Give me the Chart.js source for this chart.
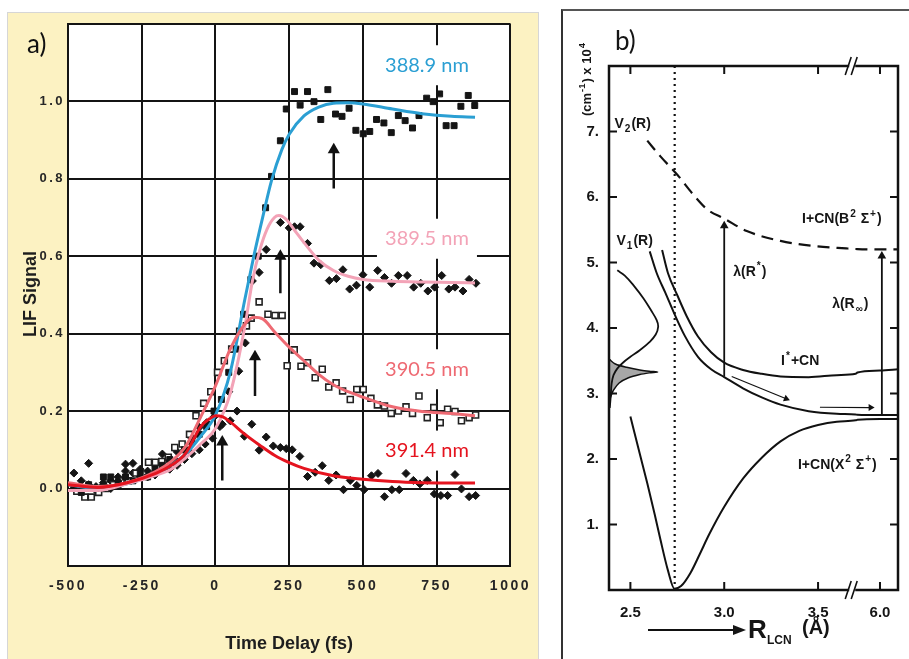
<!DOCTYPE html>
<html>
<head>
<meta charset="utf-8">
<script src="https://cdn.jsdelivr.net/npm/chart.js@4.4.1/dist/chart.umd.min.js"></script>
<style>
  html, body { margin: 0; padding: 0; background: #fff; }
  body { width: 909px; height: 659px; position: relative; overflow: hidden; }
  #wrapA { position: absolute; left: 7px; top: 12px; width: 530px; height: 646px;
           border: 1px solid #d6d6d6; border-bottom: none; background: #fcf2c2; }
  #wrapB { position: absolute; left: 561px; top: 9px; width: 346px; height: 648px;
           border-left: 2px solid #333; border-top: 2px solid #555; background: #fff; }
  canvas { display: block; }
</style>
</head>
<body>
<div id="wrapA"><canvas id="chartA" width="530" height="646"></canvas></div>
<div id="wrapB"><canvas id="chartB" width="346" height="648"></canvas></div>
<script>
// ---------- panel a) : LIF signal vs time delay ----------
// measured points, one list per probe wavelength
var sq3889T = [-480,-455,-430,-405,-380,-355,-330,-305,-280,-255,-230,-205,-180,-155,-130,-105,-80,-55,-30,-5,20,45,70,95,120,145,170,190,220,240,268,287,312,334,357,381,407,429,453,476,501,523,546,571,596,620,643,668,690,716,738,760,782,809,832,857,879];
var sq3889V = [0.0,-0.01,0.01,0.0,0.03,0.03,0.01,0.03,0.02,0.04,0.03,0.05,0.06,0.075,0.07,0.1,0.12,0.14,0.16,0.2,0.23,0.3,0.36,0.45,0.54,0.6,0.725,0.806,0.898,0.98,1.025,0.99,1.025,0.999,0.953,1.03,0.967,0.961,0.982,0.925,0.916,0.922,0.953,0.944,0.919,0.963,0.95,0.931,0.963,1.008,0.999,1.019,0.937,0.937,0.987,1.015,0.989];

var dm3895T = [-480,-455,-430,-405,-380,-355,-330,-305,-280,-255,-230,-205,-180,-155,-130,-105,-80,-55,-35,-10,15,45,79,101,125,148,172,220,250,268,287,312,334,357,386,410,432,455,478,500,523,550,573,597,620,650,672,696,720,743,767,791,812,839,860,883];
var dm3895V = [0.04,-0.005,0.065,0.005,0.01,0.0,0.02,0.063,0.065,0.03,0.03,0.035,0.05,0.05,0.06,0.075,0.09,0.1,0.115,0.13,0.16,0.25,0.303,0.376,0.536,0.558,0.617,0.687,0.673,0.676,0.676,0.633,0.582,0.578,0.537,0.542,0.565,0.515,0.525,0.552,0.52,0.563,0.545,0.53,0.55,0.55,0.52,0.53,0.51,0.52,0.55,0.515,0.52,0.51,0.54,0.53];

var os3905T = [-470,-443,-421,-396,-371,-346,-320,-296,-270,-227,-204,-182,-160,-138,-113,-88,-66,-40,-16,7,30,55,82,105,121,148,178,202,226,243,267,290,312,338,362,384,409,431,457,479,501,527,549,573,596,620,646,668,690,718,740,762,787,812,834,860,882];
var os3905V = [-0.007,-0.022,-0.022,-0.01,0.0,0.01,0.02,0.02,0.04,0.068,0.068,0.07,0.081,0.106,0.115,0.14,0.188,0.22,0.25,0.3,0.33,0.36,0.406,0.42,0.44,0.482,0.45,0.447,0.447,0.317,0.358,0.316,0.325,0.286,0.308,0.262,0.273,0.252,0.23,0.256,0.256,0.233,0.216,0.213,0.194,0.2,0.211,0.194,0.239,0.183,0.209,0.17,0.205,0.199,0.175,0.183,0.19];

var dm3914T = [-480,-455,-430,-405,-380,-355,-330,-305,-280,-255,-230,-205,-180,-155,-130,-105,-80,-55,-30,-5,23,50,73,98,123,148,172,196,220,240,260,286,312,338,362,384,409,434,457,479,504,529,551,573,598,623,646,671,693,718,742,764,787,812,834,860,882];
var dm3914V = [0.0,0.02,0.01,-0.005,0.015,0.02,0.03,0.045,0.04,0.05,0.045,0.06,0.089,0.07,0.095,0.1,0.13,0.158,0.17,0.185,0.166,0.175,0.2,0.135,0.166,0.099,0.133,0.11,0.106,0.103,0.1,0.083,0.031,0.042,0.059,0.021,0.035,-0.003,0.021,0.008,-0.003,0.033,0.039,-0.021,-0.003,-0.003,0.039,0.021,0.012,0.021,-0.014,-0.018,-0.018,0.036,-0.001,-0.021,-0.018];

// fitted curves
var fit3889T = [-500,-400,-300,-200,-150,-100,-50,0,50,100,130,160,190,225,250,300,350,400,450,500,600,700,800,880];
var fit3889V = [0.01,0.0,0.012,0.04,0.06,0.09,0.135,0.19,0.30,0.49,0.60,0.70,0.795,0.875,0.915,0.962,0.985,0.995,0.996,0.993,0.98,0.968,0.961,0.959];
var fit3895T = [-500,-400,-300,-200,-150,-100,-50,0,50,100,125,150,175,200,215,240,270,300,350,400,450,500,600,700,800,880];
var fit3895V = [-0.005,-0.005,0.012,0.035,0.05,0.08,0.115,0.155,0.245,0.42,0.535,0.615,0.67,0.70,0.705,0.695,0.665,0.635,0.59,0.563,0.548,0.54,0.535,0.533,0.532,0.531];
var fit3905T = [-500,-400,-300,-200,-150,-100,-50,0,50,100,130,160,200,250,300,350,400,450,500,600,700,800,880];
var fit3905V = [0.015,0.005,0.015,0.045,0.07,0.11,0.185,0.265,0.36,0.425,0.442,0.438,0.405,0.365,0.33,0.295,0.268,0.25,0.236,0.211,0.199,0.194,0.188];
var fit3914T = [-500,-400,-300,-200,-150,-100,-50,-20,0,25,50,100,150,200,250,300,400,500,600,700,800,880];
var fit3914V = [0.01,0.003,0.015,0.04,0.06,0.092,0.16,0.18,0.188,0.185,0.172,0.14,0.112,0.086,0.067,0.052,0.033,0.024,0.018,0.015,0.014,0.014];

// arrows: time, foot and head of each arrow
var arrowT = [401, 220, 134, 23];
var arrowFoot = [0.775, 0.504, 0.239, 0.021];
var arrowHead = [0.875, 0.60, 0.34, 0.12];

var xTicksA = [-500, -250, 0, 250, 500, 750, 1000];

var waveLabels = ['388.9 nm', '389.5 nm', '390.5 nm', '391.4 nm'];
var waveColors = ['#2b9fd3', '#f3a3b7', '#ee6a73', '#e5141f'];
var labelY = [1.093, 0.645, 0.308, 0.098];

function pts(xs, ys) {
  return xs.map(function (x, i) { return {x: x, y: ys[i]}; });
}

function fitSet(t, v, color) {
  return { data: pts(t, v), showLine: true, borderColor: color, borderWidth: 3, pointRadius: 0,
           cubicInterpolationMode: 'monotone', order: 0 };
}

var datasetsA = [
  fitSet(fit3914T, fit3914V, waveColors[3]),
  fitSet(fit3905T, fit3905V, waveColors[2]),
  fitSet(fit3895T, fit3895V, waveColors[1]),
  fitSet(fit3889T, fit3889V, waveColors[0]),
  { data: pts(sq3889T, sq3889V), pointStyle: 'rect', pointRadius: 4.2, backgroundColor: '#151515', borderColor: '#151515', borderWidth: 1, order: 1 },
  { data: pts(dm3895T, dm3895V), pointStyle: 'rectRot', pointRadius: 4, backgroundColor: '#151515', borderColor: '#151515', borderWidth: 1, order: 1 },
  { data: pts(os3905T, os3905V), pointStyle: 'rect', pointRadius: 4.2, backgroundColor: '#fff', borderColor: '#222', borderWidth: 1.6, order: 1 },
  { data: pts(dm3914T, dm3914V), pointStyle: 'rectRot', pointRadius: 4, backgroundColor: '#151515', borderColor: '#151515', borderWidth: 1, order: 1 }
];
arrowT.forEach(function (t, i) {
  datasetsA.push({ data: [{x: t, y: arrowFoot[i]}, {x: t, y: arrowHead[i]}], showLine: true,
    borderColor: '#111', borderWidth: 2.5, pointStyle: 'triangle', pointRadius: [0, 7],
    backgroundColor: '#111', pointBorderWidth: 0, order: 0 });
});

var panelA = {
  id: 'panelA',
  beforeDraw: function (chart) {
    var a = chart.chartArea, ctx = chart.ctx;
    ctx.save();
    ctx.fillStyle = '#fff';
    ctx.fillRect(a.left, a.top, a.right - a.left, a.bottom - a.top);
    ctx.restore();
    ctx.letterSpacing = '2.5px';
  },
  beforeDatasetsDraw: function (chart) {
    var ctx = chart.ctx, xs = chart.scales.x, ys = chart.scales.y;
    ctx.letterSpacing = '0px';
    ctx.save();
    // white label boxes, they hide the grid under the labels
    waveLabels.forEach(function (txt, i) {
      var cx = xs.getPixelForValue(717), cy = ys.getPixelForValue(labelY[i]);
      ctx.fillStyle = '#fff';
      ctx.fillRect(cx - 50, cy - 20, 100, 40);
      ctx.font = '20px Lato';
      ctx.fillStyle = waveColors[i];
      ctx.textAlign = 'center';
      ctx.textBaseline = 'middle';
      ctx.fillText(txt, cx, cy);
    });
    ctx.fillStyle = '#1e1e1e';
    ctx.font = 'bold 18px "Liberation Sans"';
    ctx.textAlign = 'center';
    ctx.textBaseline = 'middle';
    ctx.fillText('Time Delay (fs)', (chart.chartArea.left + chart.chartArea.right) / 2, 631);
    ctx.save();
    ctx.translate(23, 281);
    ctx.rotate(-Math.PI / 2);
    ctx.fillText('LIF Signal', 0, 0);
    ctx.restore();
    ctx.fillStyle = '#111';
    ctx.font = '26px Lato';
    ctx.textAlign = 'left';
    ctx.fillText('a)', 19, 32);
    ctx.restore();
  }
};

new Chart(document.getElementById('chartA'), {
  type: 'scatter',
  data: { datasets: datasetsA },
  options: {
    responsive: false,
    animation: false,
    devicePixelRatio: 1,
    layout: { padding: { left: 0, top: 9, right: 21, bottom: 0 } },
    plugins: { legend: { display: false }, tooltip: { enabled: false } },
    scales: {
      x: {
        type: 'linear', min: -500, max: 1000,
        afterFit: function (s) { s.height = 93; },
        afterBuildTicks: function (s) { s.ticks = xTicksA.map(function (v) { return {value: v}; }); },
        grid: { color: '#141414', lineWidth: 2, drawTicks: false },
        border: { display: true, color: '#141414', width: 2 },
        ticks: { padding: 12, autoSkip: false, maxRotation: 0, color: '#262626',
                 font: { family: '"Liberation Sans"', size: 14, weight: 'bold' },
                 callback: function (v) { return String(v); } }
      },
      y: {
        type: 'linear', min: -0.2, max: 1.2,
        afterFit: function (s) { s.width = 60; },
        grid: { color: '#141414', lineWidth: 2, drawTicks: false },
        border: { display: true, color: '#141414', width: 2 },
        ticks: { stepSize: 0.2, padding: 3, color: '#262626',
                 font: { family: '"Liberation Sans"', size: 13, weight: 'bold' },
                 callback: function (v) {
                   if (Math.abs(v - 1.2) < 1e-6 || Math.abs(v + 0.2) < 1e-6) return '';
                   return Math.abs(v) < 1e-6 ? '0.0' : v.toFixed(1);
                 } }
      }
    }
  },
  plugins: [panelA]
});

// ---------- panel b) : potential curves of ICN ----------
// R in angstrom; values right of the axis break (R > 4) are shifted left by xBreak
var xBreak = 2.17;
function toAxis(r) { return r > 4 ? r - xBreak : r; }

var v2R = [2.59,2.66,2.75,2.84,2.91,3.0,3.12,3.30,3.48,3.65,5.88,6.0,6.10];
var v2E = [6.86,6.62,6.34,6.02,5.81,5.67,5.48,5.33,5.25,5.215,5.205,5.2,5.2];
var iStarR = [2.669,2.70,2.75,2.80,2.86,2.93,3.0,3.1,3.2,3.3,3.45,3.6,3.70,5.88,6.0,6.10];
var iStarE = [5.19,4.84,4.50,4.18,3.87,3.63,3.47,3.36,3.30,3.26,3.25,3.28,3.30,3.32,3.35,3.37];
var v1R = [2.603,2.64,2.686,2.74,2.79,2.86,2.93,3.0,3.1,3.2,3.3,3.45,3.6,3.70,5.88,6.0,6.10];
var v1E = [5.17,4.84,4.54,4.18,3.88,3.56,3.37,3.25,3.08,2.94,2.83,2.73,2.69,2.68,2.675,2.67,2.67];
var x2R = [2.50,2.55,2.59,2.63,2.66,2.70,2.735,2.77,2.82,2.87,2.92,3.0,3.1,3.2,3.3,3.4,3.5,3.6,3.7,5.88,6.0,6.10];
var x2E = [2.65,2.08,1.63,1.15,0.77,0.30,0.02,0.06,0.26,0.55,0.85,1.27,1.70,2.02,2.27,2.43,2.52,2.57,2.59,2.60,2.61,2.61];
var waveR = [2.43,2.47,2.52,2.57,2.61,2.64,2.648,2.635,2.60,2.55,2.50,2.46,2.43,2.41,2.40,2.395,2.39];
var waveE = [4.88,4.80,4.64,4.45,4.27,4.12,4.02,3.90,3.78,3.66,3.56,3.47,3.38,3.28,3.15,2.95,2.78];
var spikeR = [2.388,2.42,2.48,2.55,2.60,2.645,2.60,2.55,2.49,2.44,2.41,2.395,2.388];
var spikeE = [3.52,3.45,3.40,3.36,3.34,3.33,3.315,3.29,3.24,3.16,3.05,2.95,2.9];
var rEq = 2.736;          // dotted line at the equilibrium distance
var lamR = [3.0, 6.01];   // probe arrows λ(R*) and λ(R∞)
var lamFoot = [3.26, 2.67];
var lamHead = [5.56, 5.1];
var flowR = [[3.04, 3.33], [3.51, 5.95]];
var flowE = [[3.26, 2.92], [2.79, 2.785]];
var flowAngle = [112, 90];

var xTicksB = [2.5, 3.0, 3.5, 6.0];
var yTicksB = [1, 2, 3, 4, 5, 6, 7];

function bcurve(rs, es, extra) {
  var d = { data: rs.map(function (r, i) { return {x: toAxis(r), y: es[i]}; }), showLine: true,
            borderColor: '#111', borderWidth: 2, pointRadius: 0, tension: 0.4 };
  for (var k in extra) d[k] = extra[k];
  return d;
}

var datasetsB = [
  bcurve(v2R, v2E, { borderDash: [12, 7], borderWidth: 2.2, cubicInterpolationMode: 'monotone' }),
  bcurve([rEq, rEq], [0, 8], { borderDash: [2, 4], borderWidth: 2.2, tension: 0 }),
  bcurve(iStarR, iStarE, { cubicInterpolationMode: 'monotone' }),
  bcurve(v1R, v1E, { cubicInterpolationMode: 'monotone' }),
  bcurve(x2R, x2E, { cubicInterpolationMode: 'monotone' }),
  bcurve(waveR, waveE, { borderWidth: 1.8 }),
  bcurve(spikeR, spikeE, { borderWidth: 1.5, fill: 'shape', backgroundColor: 'rgba(60,60,60,0.45)', tension: 0.3 })
];
lamR.forEach(function (r, i) {
  datasetsB.push(bcurve([r, r], [lamFoot[i], lamHead[i]], { tension: 0, borderWidth: 1.8,
    pointStyle: 'triangle', pointRadius: [0, 5], backgroundColor: '#111', pointBorderWidth: 0 }));
});
flowR.forEach(function (rr, i) {
  datasetsB.push(bcurve(rr, flowE[i], { tension: 0, borderWidth: 1.2,
    pointStyle: 'triangle', pointRadius: [0, 4], pointRotation: [0, flowAngle[i]], backgroundColor: '#111', pointBorderWidth: 0 }));
});

// text pieces: [text, 0 normal | 1 superscript | -1 subscript]
var notesB = [
  { u: 2.415, v: 7.11, parts: [['V', 0], ['2', -1], ['(R)', 0]] },
  { u: 2.426, v: 5.32, parts: [['V', 0], ['1', -1], ['(R)', 0]] },
  { u: 3.415, v: 5.66, parts: [['I+CN(B', 0], ['2', 1], [' Σ', 0], ['+', 1], [')', 0]] },
  { u: 3.048, v: 4.86, parts: [['λ(R', 0], ['*', 1], [')', 0]] },
  { u: 3.575, v: 4.36, parts: [['λ(R', 0], ['∞', -1], [')', 0]] },
  { u: 3.303, v: 3.49, parts: [['I', 0], ['*', 1], ['+CN', 0]] },
  { u: 3.393, v: 1.91, parts: [['I+CN(X', 0], ['2', 1], [' Σ', 0], ['+', 1], [')', 0]] }
];

function rich(ctx, parts, x, y, size) {
  var cx = x;
  parts.forEach(function (p) {
    var fs = p[1] ? size * 0.72 : size;
    ctx.font = 'bold ' + fs + 'px "Liberation Sans"';
    var dy = p[1] === 1 ? -size * 0.38 : (p[1] === -1 ? size * 0.32 : 0);
    ctx.fillText(p[0], cx, y + dy);
    cx += ctx.measureText(p[0]).width + 1;
  });
}

var panelB = {
  id: 'panelB',
  afterDatasetsDraw: function (chart) {
    var ctx = chart.ctx, a = chart.chartArea, xs = chart.scales.x, ys = chart.scales.y;
    ctx.save();
    ctx.strokeStyle = '#111';
    ctx.lineWidth = 2.5;
    ctx.strokeRect(a.left, a.top, a.right - a.left, a.bottom - a.top);
    ctx.lineWidth = 2;
    ctx.beginPath();
    yTicksB.forEach(function (v) {
      var py = ys.getPixelForValue(v);
      ctx.moveTo(a.left, py); ctx.lineTo(a.left + 8, py);
      ctx.moveTo(a.right, py); ctx.lineTo(a.right - 8, py);
    });
    xTicksB.forEach(function (r) {
      var px = xs.getPixelForValue(toAxis(r));
      ctx.moveTo(px, a.bottom); ctx.lineTo(px, a.bottom - 8);
      ctx.moveTo(px, a.top); ctx.lineTo(px, a.top + 8);
    });
    ctx.stroke();
    // axis break
    var bx = xs.getPixelForValue(3.682);
    [a.top, a.bottom].forEach(function (by) {
      ctx.fillStyle = '#fff';
      ctx.fillRect(bx - 3, by - 3, 6, 6);
      ctx.lineWidth = 1.6;
      ctx.beginPath();
      ctx.moveTo(bx - 7, by + 9); ctx.lineTo(bx - 1, by - 9);
      ctx.moveTo(bx - 1, by + 9); ctx.lineTo(bx + 5, by - 9);
      ctx.stroke();
    });
    // curve labels
    ctx.fillStyle = '#151515';
    ctx.textBaseline = 'middle';
    ctx.textAlign = 'left';
    notesB.forEach(function (n) {
      rich(ctx, n.parts, xs.getPixelForValue(n.u), ys.getPixelForValue(n.v), 14);
    });
    // y title
    ctx.save();
    ctx.translate(24, 67);
    ctx.rotate(-Math.PI / 2);
    ctx.textAlign = 'left';
    rich(ctx, [['(cm', 0], ['-1', 1], [') x 10', 0], ['4', 1]], -38, 0, 13);
    ctx.restore();
    // x title with arrow
    ctx.lineWidth = 2;
    ctx.beginPath(); ctx.moveTo(85, 619); ctx.lineTo(172, 619); ctx.stroke();
    ctx.beginPath(); ctx.moveTo(183, 619); ctx.lineTo(170, 614); ctx.lineTo(170, 624); ctx.closePath(); ctx.fill();
    ctx.font = 'bold 26px "Liberation Sans"';
    ctx.fillText('R', 185, 620);
    ctx.font = 'bold 12px "Liberation Sans"';
    ctx.fillText('LCN', 204, 630);
    ctx.font = 'bold 20px "Liberation Sans"';
    ctx.fillText('(Å)', 239, 617);
    ctx.font = '26px Lato';
    ctx.fillText('b)', 52, 31);
    ctx.restore();
  }
};

new Chart(document.getElementById('chartB'), {
  type: 'scatter',
  data: { datasets: datasetsB },
  options: {
    responsive: false,
    animation: false,
    devicePixelRatio: 1,
    layout: { padding: { left: 0, top: 55, right: 11, bottom: 0 } },
    plugins: { legend: { display: false }, tooltip: { enabled: false } },
    scales: {
      x: {
        type: 'linear', min: 2.386, max: 3.926,
        afterFit: function (s) { s.height = 69; },
        afterBuildTicks: function (s) { s.ticks = xTicksB.map(function (r) { return {value: toAxis(r)}; }); },
        grid: { display: false },
        border: { display: false },
        ticks: { padding: 6, autoSkip: false, maxRotation: 0, color: '#151515',
                 font: { family: '"Liberation Sans"', size: 15, weight: 'bold' },
                 callback: function (v) { return (v > 3.7 ? v + xBreak : v).toFixed(1); } }
      },
      y: {
        type: 'linear', min: 0, max: 8,
        afterFit: function (s) { s.width = 46; },
        afterBuildTicks: function (s) { s.ticks = yTicksB.map(function (v) { return {value: v}; }); },
        grid: { display: false },
        border: { display: false },
        ticks: { padding: 2, color: '#151515',
                 font: { family: '"Liberation Sans"', size: 15, weight: 'bold' },
                 callback: function (v) { return v + '.'; } }
      }
    }
  },
  plugins: [panelB]
});
</script>
</body>
</html>
